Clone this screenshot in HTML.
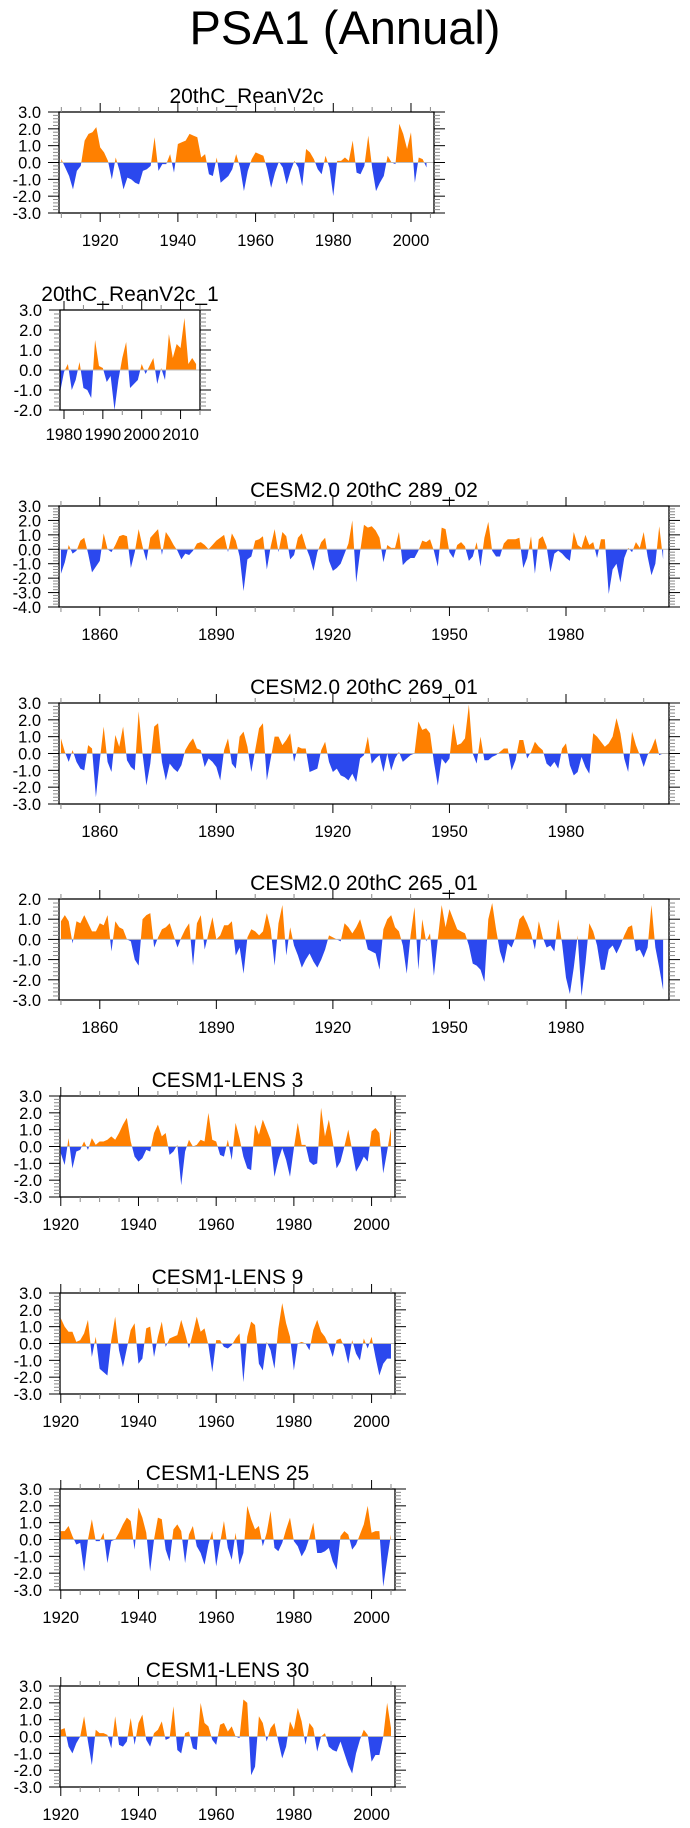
<!DOCTYPE html>
<html><head><meta charset="utf-8">
<style>
html,body{margin:0;padding:0;background:#fff;}
svg{display:block;font-family:"Liberation Sans",sans-serif;}
</style></head>
<body>
<svg id="fig" width="690" height="1828" viewBox="0 0 690 1828" xmlns="http://www.w3.org/2000/svg">
<text x="345" y="44" text-anchor="middle" font-size="47" fill="#000">PSA1 (Annual)</text>
</svg>
<script>
// ---- data (annual PSA1 index values) ----
const reanV2c = [0.2,-0.3,-0.8,-1.6,-0.5,-0.2,1.3,1.7,1.8,2.1,0.9,0.6,0.1,-1.0,0.3,-0.5,-1.6,-0.9,-1.0,-1.2,-1.3,-0.5,-0.4,-0.2,1.5,-0.5,-0.1,-0.1,0.5,-0.6,1.1,1.2,1.3,1.7,1.6,1.5,0.3,0.5,-0.7,-0.8,0.3,-1.2,-1.0,-0.8,-0.4,0.5,-0.3,-1.7,-0.5,0.2,0.6,0.5,0.4,-0.4,-1.5,-0.6,0.05,-0.3,-1.3,-0.5,0.1,-0.3,-1.4,0.8,0.6,0.2,-0.4,-0.7,0.4,-0.3,-2.0,0.1,0.1,0.3,0.1,1.3,-0.6,-0.7,-0.2,1.6,-0.3,-1.7,-1.2,-0.8,0.4,0.0,-0.1,2.3,1.7,0.8,1.8,-1.2,0.3,0.2,-0.3];
const reanV2c1 = [-1.1,-0.1,0.3,-1.0,-0.5,0.4,-0.9,-1.0,-1.4,1.5,0.2,0.1,-0.6,-0.3,-2.0,-0.5,0.6,1.4,-0.9,-0.7,-0.5,0.3,-0.2,0.2,0.6,-0.7,0.1,-0.5,1.8,0.6,1.3,1.1,2.6,0.3,0.6,0.3];
const cesm2_289 = [-1.7,-0.9,0.3,-0.3,-0.1,0.6,0.8,-0.3,-1.6,-1.2,-0.8,1.1,0.0,-0.2,0.3,0.9,1.0,0.9,-1.3,-0.2,1.4,0.2,-0.8,0.8,1.1,1.4,-0.4,1.2,0.8,0.3,-0.1,-0.7,-0.3,-0.4,-0.1,0.4,0.5,0.3,0.0,0.3,0.6,0.8,1.0,-0.2,1.1,0.6,-0.5,-2.9,-0.7,-0.5,0.6,0.7,0.9,-1.4,0.2,1.4,-0.2,1.2,0.9,-0.7,-0.4,0.8,1.1,0.2,-0.5,-1.5,-0.2,0.5,0.8,-0.8,-1.5,-1.3,-1.0,-0.3,0.4,2.0,-2.3,-0.2,1.7,1.5,1.6,1.3,0.8,-0.9,0.3,0.1,0.1,1.2,-1.1,-0.8,-0.6,-0.6,-0.1,0.6,0.5,0.7,-0.1,-1.2,1.5,1.4,-0.2,-0.6,0.3,0.5,0.2,-0.8,-0.5,0.5,-1.2,0.8,1.9,-0.1,-0.5,-0.5,0.4,0.7,0.7,0.7,0.8,-1.3,-0.6,0.9,-1.7,0.7,0.9,0.2,-1.6,-0.3,-0.1,-0.3,-0.6,-0.8,1.2,0.3,0.1,1.0,0.3,0.5,-0.6,0.7,0.7,-3.1,-1.4,-1.0,-2.3,-0.6,0.1,-0.2,0.5,0.1,1.2,-0.5,-1.8,-1.0,1.6,-0.7];
const cesm2_269 = [0.9,0.1,-0.5,0.2,-0.5,-0.9,-1.0,0.5,0.3,-2.6,-0.4,1.6,-0.5,-1.1,1.1,0.4,1.6,-0.4,-0.8,-1.0,2.5,0.0,-1.9,-0.6,1.6,1.8,-0.5,-1.6,-0.6,-0.9,-1.1,-0.7,0.2,0.6,0.9,0.3,0.2,-0.8,-0.3,-0.5,-0.8,-1.6,0.2,0.9,-0.6,-0.9,1.0,1.3,0.4,-1.1,0.2,1.5,1.8,-1.6,-0.3,1.0,1.0,0.5,0.8,1.2,-0.5,0.4,0.3,0.3,-1.1,-1.0,-0.9,0.2,0.7,-0.5,-1.1,-0.9,-1.3,-1.4,-1.6,-1.2,-1.7,-0.3,-0.1,1.0,-0.6,-0.3,-0.1,-1.1,0.0,-1.0,-0.3,0.1,-0.5,-0.3,-0.1,0.0,1.9,1.4,1.5,1.2,-0.5,-1.9,-0.3,-0.6,-0.3,1.8,0.5,0.6,0.9,2.9,0.0,-0.6,1.0,-0.4,-0.4,-0.2,-0.1,0.1,0.3,0.3,-1.0,-0.4,0.8,0.8,-0.3,0.1,0.7,0.4,0.2,-0.6,-0.8,-0.5,-0.9,0.3,0.6,-0.7,-1.3,-1.1,-0.2,-0.8,-1.2,1.2,1.0,0.7,0.4,0.6,1.0,2.1,1.2,-0.3,-1.1,1.3,0.5,-0.1,-0.8,-0.1,0.3,0.9,-0.1,0.0];
const cesm2_265 = [0.9,1.2,0.9,-0.2,0.9,0.8,1.2,0.8,0.4,0.4,0.8,0.7,1.2,-0.6,0.9,0.6,0.5,0.0,-0.1,-1.0,-1.3,1.0,1.2,1.3,-0.4,0.1,0.5,0.6,0.8,0.2,-0.4,0.1,0.5,0.8,-1.3,0.8,1.2,-0.5,0.3,1.1,0.0,0.2,0.7,0.7,0.9,-0.8,-0.4,-1.7,0.1,0.5,0.4,0.2,0.4,1.3,0.5,-1.3,0.8,1.7,-0.8,0.6,-0.3,-0.8,-1.4,-1.0,-0.7,-1.1,-1.4,-1.0,-0.5,0.2,0.1,0.0,-0.1,0.8,0.6,0.3,0.6,1.0,0.3,-0.5,-0.6,-0.7,-1.5,0.5,1.0,1.2,0.6,0.4,-0.3,-1.7,0.2,1.6,-1.5,1.0,-0.1,0.3,-1.8,0.0,1.7,0.6,1.5,1.0,0.5,0.4,0.3,-0.3,-1.2,-1.3,-1.5,-2.1,1.0,1.8,0.5,-0.6,-1.2,-0.2,-0.4,0.1,1.0,1.2,0.8,0.3,-0.5,0.9,0.1,-0.4,-0.3,-0.6,1.0,-0.2,-1.9,-2.7,-1.4,0.2,-2.8,-1.2,0.8,0.4,-0.3,-1.5,-1.5,-0.5,-0.3,-0.7,-0.3,0.2,0.6,0.7,-0.6,-0.5,-0.9,-0.4,1.7,-0.4,-1.4,-2.5];
const lens3 = [-0.4,-1.1,0.5,-1.3,-0.3,-0.2,0.3,-0.2,0.5,0.1,0.3,0.3,0.4,0.6,0.4,0.8,1.3,1.7,0.3,-0.6,-0.9,-0.7,-0.2,-0.3,0.8,1.3,0.6,0.8,-0.5,-0.3,0.1,-2.3,-0.3,0.4,0.0,0.1,0.4,0.3,2.0,0.4,0.3,-0.5,-0.6,0.4,-0.8,1.4,0.5,-0.6,-1.3,-1.4,1.3,0.7,1.6,1.0,0.4,-1.8,-0.8,-0.1,-0.8,-1.8,-0.1,1.4,0.1,0.1,-0.9,-1.1,-1.0,2.3,0.6,1.6,0.3,-1.3,-0.9,0.0,1.0,-0.2,-1.5,-1.1,-0.6,-0.9,0.9,1.1,0.8,-1.6,-0.3,1.1];
const lens9 = [1.5,1.0,0.7,0.7,0.1,0.2,0.6,1.4,-0.8,0.4,-1.5,-1.7,-1.9,0.2,1.6,-0.4,-1.4,-0.3,0.8,1.2,-1.2,-0.9,0.9,1.0,-0.8,0.4,1.3,-0.2,0.3,0.4,0.5,1.4,0.6,-0.3,0.6,1.6,0.7,0.9,-0.1,-1.7,0.2,0.2,-0.2,-0.3,-0.1,0.3,0.6,-2.3,0.4,1.3,1.1,-1.2,-1.6,0.1,-0.4,-1.5,0.9,2.4,1.2,0.4,-1.6,0.0,0.1,0.0,-0.4,0.8,1.4,0.7,0.4,-0.1,-0.8,0.2,0.3,-0.2,-1.2,0.2,-0.6,-1.0,0.3,-0.3,0.4,-0.8,-1.9,-1.2,-0.9,-0.9];
const lens25 = [0.5,0.5,0.8,0.2,-0.3,-0.2,-1.9,0.0,1.2,-0.1,-0.1,0.4,-1.4,-0.1,0.0,0.4,0.9,1.3,1.1,-0.6,1.9,1.3,0.4,-1.9,0.0,1.3,1.2,-0.6,-1.3,0.6,0.9,0.5,-1.4,0.3,0.8,-0.4,-0.8,-1.5,-0.3,0.5,-1.6,-0.2,1.1,-0.5,-1.2,0.4,-1.5,-0.8,2.0,1.2,0.6,0.8,-0.4,0.4,1.7,-0.5,-0.7,-0.2,0.6,1.3,-0.1,-0.4,-1.0,-0.6,0.1,1.0,-0.8,-0.8,-0.7,-0.5,-1.3,-1.8,0.2,0.5,0.3,-0.6,-0.3,0.3,0.9,2.0,0.4,0.5,0.5,-2.8,-1.2,0.3];
const lens30 = [0.4,0.5,-0.6,-1.0,-0.4,0.0,1.2,-0.3,-1.7,0.4,0.2,0.2,0.1,-0.7,1.2,-0.5,-0.6,-0.3,1.1,-0.5,0.8,1.3,-0.2,-0.6,0.2,0.4,0.9,-0.2,-0.1,1.8,-0.8,-1.0,0.2,0.3,-0.7,-0.8,2.0,0.8,0.6,-0.2,-0.5,0.7,0.8,0.3,0.6,0.0,-0.1,2.2,2.0,-2.3,-1.8,1.2,0.8,-0.3,0.5,0.8,-0.3,-1.3,-0.6,0.9,0.4,1.7,0.9,-0.5,0.8,0.5,-0.9,0.0,0.2,-0.6,-0.8,-0.9,-0.3,-1.0,-1.7,-2.2,-1.0,-0.2,0.4,0.1,-1.5,-1.1,-1.1,0.0,2.0,0.5];
// tick label arrays
const xLabelsA = [1920,1940,1960,1980,2000];
const xLabelsB = [1980,1990,2000,2010];
const xLabelsC = [1860,1890,1920,1950,1980];

const NS='http://www.w3.org/2000/svg';
const svg=document.getElementById('fig');
function mk(tag,attrs,parent){const e=document.createElementNS(NS,tag);for(const k in attrs)e.setAttribute(k,attrs[k]);(parent||svg).appendChild(e);return e;}

const panels=[
 {id:'reanv2c',title:'20thC_ReanV2c',data:reanV2c,start:1910,top:112,h:101,x0:59,x1:434,yr0:1909.4,ymax:3,ymin:-3,xl:xLabelsA,minor:5},
 {id:'reanv2c-1',title:'20thC_ReanV2c_1',data:reanV2c1,start:1979,top:310,h:100,x0:60,x1:200,yr0:1978.97,ymax:3,ymin:-2,xl:xLabelsB,minor:5},
 {id:'cesm2-289-02',title:'CESM2.0 20thC 289_02',data:cesm2_289,start:1850,top:506,h:101,x0:59,x1:669,yr0:1849.5,ymax:3,ymin:-4,xl:xLabelsC,minor:10},
 {id:'cesm2-269-01',title:'CESM2.0 20thC 269_01',data:cesm2_269,start:1850,top:703,h:101,x0:59,x1:669,yr0:1849.5,ymax:3,ymin:-3,xl:xLabelsC,minor:10},
 {id:'cesm2-265-01',title:'CESM2.0 20thC 265_01',data:cesm2_265,start:1850,top:899,h:101,x0:59,x1:669,yr0:1849.5,ymax:2,ymin:-3,xl:xLabelsC,minor:10},
 {id:'lens-3',title:'CESM1-LENS 3',data:lens3,start:1920,top:1096,h:101,x0:60,x1:395,yr0:1919.8,ymax:3,ymin:-3,xl:xLabelsA,minor:5},
 {id:'lens-9',title:'CESM1-LENS 9',data:lens9,start:1920,top:1293,h:101,x0:60,x1:395,yr0:1919.8,ymax:3,ymin:-3,xl:xLabelsA,minor:5},
 {id:'lens-25',title:'CESM1-LENS 25',data:lens25,start:1920,top:1489,h:101,x0:60,x1:395,yr0:1919.8,ymax:3,ymin:-3,xl:xLabelsA,minor:5},
 {id:'lens-30',title:'CESM1-LENS 30',data:lens30,start:1920,top:1686,h:101,x0:60,x1:395,yr0:1919.8,ymax:3,ymin:-3,xl:xLabelsA,minor:5}
];
const PXYR=3.885;

panels.forEach((p,pi)=>{
  const g=mk('g',{});
  
  
  const bottom=p.top+p.h;
  const ys=v=>p.top+(p.ymax-v)/(p.ymax-p.ymin)*p.h;
  const xs=yr=>p.x0+(yr-p.yr0)*PXYR;
  const y0=ys(0);
  const t=mk('text',{x:(p.x0+p.x1)/2,y:p.top-9,'text-anchor':'middle','font-size':21,fill:'#000'},g);
  t.textContent=p.title;
  
  
  const cid='c'+pi;
  const defs=mk('defs',{},g);
  const cu=mk('clipPath',{id:cid+'u'},defs); mk('rect',{x:p.x0,y:p.top,width:p.x1-p.x0,height:y0-p.top},cu);
  const cd=mk('clipPath',{id:cid+'d'},defs); mk('rect',{x:p.x0,y:y0,width:p.x1-p.x0,height:bottom-y0},cd);
  let d='M'+xs(p.start).toFixed(2)+','+y0.toFixed(2);
  p.data.forEach((v,i)=>{d+=' L'+xs(p.start+i).toFixed(2)+','+ys(v).toFixed(2);});
  d+=' L'+xs(p.start+p.data.length-1).toFixed(2)+','+y0.toFixed(2)+' Z';
  const up=mk('path',{d:d,fill:'#ff8000','clip-path':'url(#'+cid+'u)'},g);
  
  
  const dn=mk('path',{d:d,fill:'#2b48ee','clip-path':'url(#'+cid+'d)'},g);
  
  
  const zl=mk('line',{x1:p.x0,x2:p.x1,y1:y0,y2:y0,stroke:'#bbb','stroke-width':1},g);
  
  
  const fr=mk('rect',{x:p.x0,y:p.top,width:p.x1-p.x0,height:p.h,fill:'none',stroke:'#000','stroke-width':1.3},g);
  
  
  for(let v=p.ymin;v<=p.ymax+1e-6;v+=0.2){
    const vv=Math.round(v*10)/10; const y=ys(vv);
    const major=Math.abs(vv-Math.round(vv))<1e-6;
    const L=major?11:6;
    mk('line',{x1:p.x0-L,x2:p.x0,y1:y,y2:y,stroke:major?'#000':'#888','stroke-width':1},g);
    mk('line',{x1:p.x1,x2:p.x1+(major?11:6),y1:y,y2:y,stroke:major?'#000':'#888','stroke-width':1},g);
  }
  for(let v=p.ymax;v>=p.ymin;v--){
    const lb=mk('text',{x:p.x0-18,y:ys(v)+6,'text-anchor':'end','font-size':16.5,fill:'#000'},g);
    lb.textContent=v.toFixed(1);
    
    
  }
  const yrA=Math.ceil(p.yr0), yrB=Math.floor(p.yr0+(p.x1-p.x0)/PXYR);
  const step=p.xl[1]-p.xl[0];
  for(let yr=yrA;yr<=yrB;yr++){
    if(yr%p.minor!==0) continue;
    const x=xs(yr); const major=(yr-p.xl[0])%step===0;
    const L=major?9:5;
    mk('line',{x1:x,x2:x,y1:bottom,y2:bottom+L,stroke:major?'#000':'#888','stroke-width':1},g);
    mk('line',{x1:x,x2:x,y1:p.top,y2:p.top-L,stroke:major?'#000':'#888','stroke-width':1},g);
  }
  p.xl.forEach(yr=>{
    const lb=mk('text',{x:xs(yr),y:bottom+(pi===1?30:33),'text-anchor':'middle','font-size':16.5,fill:'#000'},g);
    lb.textContent=String(yr);
    
    
  });
});
</script>
</body></html>
